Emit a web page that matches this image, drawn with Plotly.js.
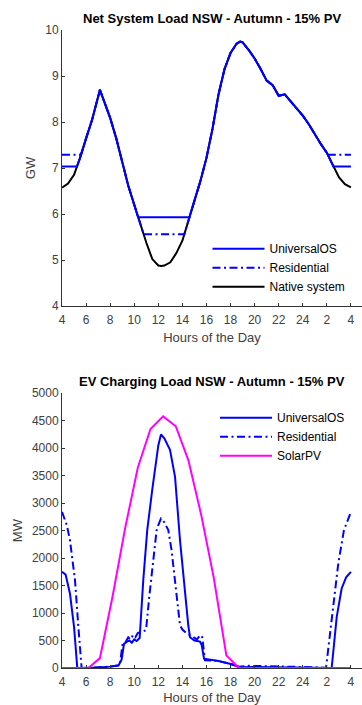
<!DOCTYPE html>
<html>
<head>
<meta charset="utf-8">
<script src="https://cdn.plot.ly/plotly-3.0.1.min.js"></script>
<style>html,body{margin:0;padding:0;background:#fff;}#chart{width:362px;height:705px;}</style>
</head>
<body>
<div id="chart"></div>
<script>
// ---- Top chart: Net System Load (GW) ----
var nativeHours = [4,4.5,5,5.5,6,6.5,7,7.15,7.5,8,8.5,9,9.5,10,10.5,11,11.5,12,12.25,12.5,13,13.5,14,14.5,15,15.5,16,16.5,17,17.5,18,18.5,18.8,19,19.5,20,20.5,21,21.5,22,22.5,23,23.5,24,24.5,25,25.5,26,26.5,27,27.5,28];
var nativeLoad = [6.57,6.66,6.85,7.22,7.65,8.05,8.55,8.70,8.45,8.09,7.65,7.1,6.62,6.2,5.78,5.38,5.02,4.88,4.87,4.88,4.95,5.15,5.42,5.86,6.28,6.72,7.22,7.85,8.6,9.15,9.5,9.7,9.75,9.73,9.57,9.38,9.15,8.9,8.8,8.57,8.6,8.45,8.3,8.14,7.95,7.73,7.52,7.33,7.05,6.8,6.65,6.58];

var uosHours = [4,5.24,5.5,6,6.5,7,7.15,7.5,8,8.5,9,9.5,10,10.32,14.58,15,15.5,16,16.5,17,17.5,18,18.5,18.8,19,19.5,20,20.5,21,21.5,22,22.5,23,23.5,24,24.5,25,25.5,26,26.5,26.54,28];
var uosLoad = [7.03,7.03,7.22,7.65,8.05,8.55,8.70,8.45,8.09,7.65,7.1,6.62,6.2,5.93,5.93,6.28,6.72,7.22,7.85,8.6,9.15,9.5,9.7,9.75,9.73,9.57,9.38,9.15,8.9,8.8,8.57,8.6,8.45,8.3,8.14,7.95,7.73,7.52,7.33,7.05,7.03,7.03];

var resHours = [4,5.58,6,6.5,7,7.15,7.5,8,8.5,9,9.5,10,10.5,10.78,14.16,14.5,15,15.5,16,16.5,17,17.5,18,18.5,18.8,19,19.5,20,20.5,21,21.5,22,22.5,23,23.5,24,24.5,25,25.5,26,26.07,28];
var resLoad = [7.29,7.29,7.65,8.05,8.55,8.70,8.45,8.09,7.65,7.1,6.62,6.2,5.78,5.56,5.56,5.86,6.28,6.72,7.22,7.85,8.6,9.15,9.5,9.7,9.75,9.73,9.57,9.38,9.15,8.9,8.8,8.57,8.6,8.45,8.3,8.14,7.95,7.73,7.52,7.33,7.29,7.29];

// ---- Bottom chart: EV Charging Load (MW) ----
var evUosHours = [4,4.3,4.66,5.0,5.27,6.0,7.0,8.0,8.7,8.95,9.15,9.4,9.6,9.8,10.0,10.2,10.45,10.75,11.08,11.5,12.0,12.22,12.5,12.97,13.39,13.8,14.2,14.49,14.63,15.0,15.46,15.6,15.8,17.0,18.1,18.7,20,22,24,25,26.4,26.82,27.23,27.6,28];
var evUosLoad = [1750,1700,1356,747,0,0,10,25,50,150,440,480,500,460,520,490,545,1598,2509,3250,4050,4250,4180,3970,3480,2330,1400,778,560,500,480,420,170,128,67,15,20,10,5,0,0,930,1447,1650,1750];

var evResHours = [4,4.1,4.4,4.66,5.08,5.36,5.63,6.0,7.0,8.0,8.8,9.04,9.3,9.5,9.7,9.9,10.1,10.3,10.6,10.98,11.25,11.6,11.86,12.0,12.22,12.5,12.83,13.1,13.52,13.8,14.0,14.36,14.8,15.2,15.5,15.65,15.88,17.0,18.1,18.7,19.5,21,22.5,24,25.5,25.93,26.4,26.95,27.42,27.8,28];
var evResLoad = [2840,2780,2600,2327,1598,747,0,0,10,25,50,450,480,560,520,600,560,640,650,690,1300,2050,2509,2600,2720,2650,2509,2145,1294,778,700,627,580,520,600,560,140,128,67,25,40,35,20,15,10,0,930,1902,2509,2750,2840];

var solarHours = [4,6.2,7.15,8.2,9.25,10.3,11.35,12.4,13.45,14.5,15.55,16.6,17.65,18.7,28];
var solarLoad = [0,0,180,1300,2550,3650,4350,4580,4400,3780,2800,1650,230,0,0];

// ---- Tick labels ----
var tickHours = [4,6,8,10,12,14,16,18,20,22,24,26,28];
var tickLabels = ['4','6','8','10','12','14','16','18','20','22','24','2','4'];

var FONT = 'Liberation Sans, Arial, Helvetica, sans-serif';
var AX = '#333333';
var TXT = '#404040';
var BLUE = '#0000ff';
var dashDot = '8px,3.5px,2px,3.5px';

var traces = [
  {x: nativeHours, y: nativeLoad, name: 'Native system', type: 'scatter', mode: 'lines',
   line: {color: '#000000', width: 2}, xaxis: 'x', yaxis: 'y', legend: 'legend', legendrank: 3},
  {x: resHours, y: resLoad, name: 'Residential', type: 'scatter', mode: 'lines',
   line: {color: BLUE, width: 2, dash: dashDot}, xaxis: 'x', yaxis: 'y', legend: 'legend', legendrank: 2},
  {x: uosHours, y: uosLoad, name: 'UniversalOS', type: 'scatter', mode: 'lines',
   line: {color: BLUE, width: 2}, xaxis: 'x', yaxis: 'y', legend: 'legend', legendrank: 1},

  {x: evUosHours, y: evUosLoad, name: 'UniversalOS', type: 'scatter', mode: 'lines',
   line: {color: BLUE, width: 2}, xaxis: 'x2', yaxis: 'y2', legend: 'legend2', legendrank: 1},
  {x: evResHours, y: evResLoad, name: 'Residential', type: 'scatter', mode: 'lines',
   line: {color: BLUE, width: 2, dash: dashDot}, xaxis: 'x2', yaxis: 'y2', legend: 'legend2', legendrank: 2},
  {x: solarHours, y: solarLoad, name: 'SolarPV', type: 'scatter', mode: 'lines',
   line: {color: '#ff00ff', width: 2}, xaxis: 'x2', yaxis: 'y2', legend: 'legend2', legendrank: 3}
];

function xax(anchor) {
  return {
    anchor: anchor, domain: [0, 1], range: [4, 28.92],
    tickmode: 'array', tickvals: tickHours, ticktext: tickLabels,
    ticks: 'inside', ticklen: 3, tickwidth: 1, tickcolor: AX,
    showline: true, linecolor: AX, linewidth: 1, mirror: false,
    showgrid: false, zeroline: false, ticklabelstandoff: 3,
    tickfont: {family: FONT, size: 12, color: TXT},
    title: {text: 'Hours of the Day', font: {family: FONT, size: 13, color: TXT}, standoff: 6}
  };
}
function yax(anchor, dom, rng, dt, label) {
  return {
    anchor: anchor, domain: dom, range: rng, dtick: dt, tick0: 0,
    ticks: 'inside', ticklen: 3, tickwidth: 1, tickcolor: AX,
    showline: true, linecolor: AX, linewidth: 1, mirror: false,
    showgrid: false, zeroline: false,
    tickfont: {family: FONT, size: 12, color: TXT},
    title: {text: label, font: {family: FONT, size: 13, color: TXT}, standoff: 6}
  };
}

var layout = {
  width: 362, height: 705,
  margin: {l: 62, r: 0, t: 30, b: 37},
  paper_bgcolor: '#ffffff', plot_bgcolor: '#ffffff',
  showlegend: true,
  font: {family: FONT, color: TXT},
  xaxis: xax('y'),
  yaxis: yax('x', [0.5674, 1], [4, 10], 1, 'GW'),
  xaxis2: xax('y2'),
  yaxis2: yax('x2', [0, 0.4306], [0, 5000], 500, 'MW'),
  legend: {x: 0.485, y: 0.68, xanchor: 'left', yanchor: 'top', bgcolor: 'rgba(0,0,0,0)',
           font: {family: FONT, size: 12, color: '#000'}, itemwidth: 52, tracegroupgap: 0},
  legend2: {x: 0.51, y: 0.415, xanchor: 'left', yanchor: 'top', bgcolor: 'rgba(0,0,0,0)',
           font: {family: FONT, size: 12, color: '#000'}, itemwidth: 52, tracegroupgap: 0},
  annotations: [
    {text: '<b>Net System Load NSW - Autumn - 15% PV</b>', xref: 'paper', yref: 'paper',
     x: 0.5, y: 1.0188, xanchor: 'center', yanchor: 'middle', showarrow: false,
     font: {family: FONT, size: 13, color: '#000'}},
    {text: '<b>EV Charging Load NSW - Autumn - 15% PV</b>', xref: 'paper', yref: 'paper',
     x: 0.5, y: 0.4483, xanchor: 'center', yanchor: 'middle', showarrow: false,
     font: {family: FONT, size: 13, color: '#000'}}
  ]
};

Plotly.newPlot('chart', traces, layout, {staticPlot: true, displayModeBar: false});
</script>
</body>
</html>
